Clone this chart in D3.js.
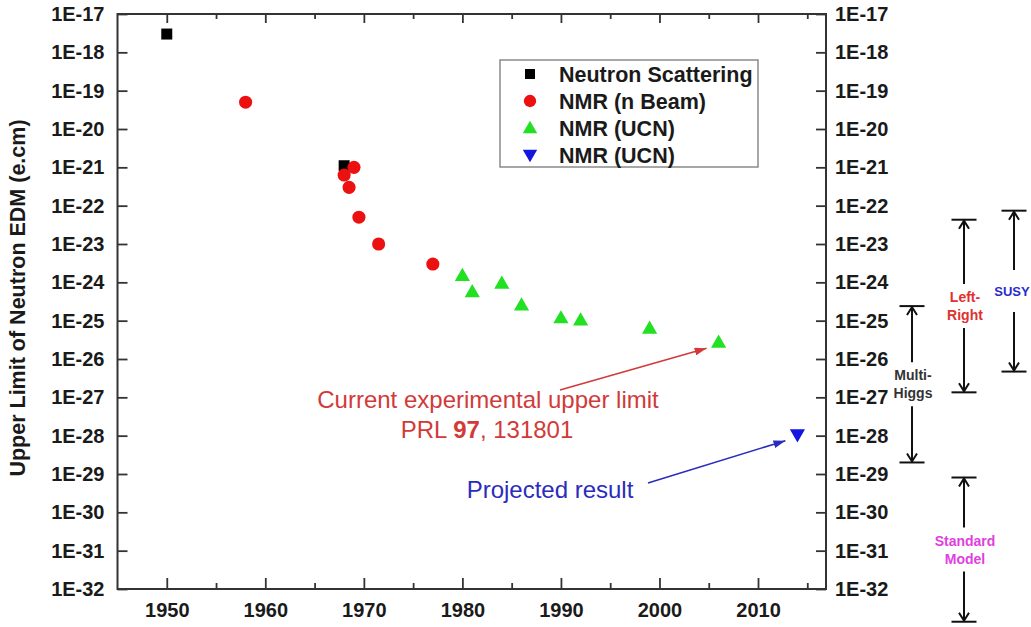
<!DOCTYPE html>
<html>
<head>
<meta charset="utf-8">
<script src="https://cdn.jsdelivr.net/npm/d3@7"></script>
<style>
  html, body { margin: 0; padding: 0; background: #fff; }
  svg { display: block; font-family: "Liberation Sans", Arial, sans-serif; }
</style>
</head>
<body>
<svg id="chart" width="1031" height="627"></svg>
<script>
// ---------- data ----------
const scatterYears = [1950, 1968];
const scatterVals  = [3e-18, 1.1e-21];

const beamYears = [1958, 1969, 1968, 1968.5, 1969.5, 1971.5, 1977];
const beamVals  = [5e-20, 1e-21, 6.3e-22, 3e-22, 5e-23, 1e-23, 3e-24];

const ucnYears = [1980, 1981, 1984, 1986, 1990, 1992, 1999, 2006];
const ucnVals  = [1.6e-24, 6e-25, 1e-24, 2.7e-25, 1.25e-25, 1.1e-25, 6.7e-26, 2.9e-26];

const projYears = [2014];
const projVals  = [1e-28];

const legendLabels = ["Neutron Scattering", "NMR (n Beam)", "NMR (UCN)", "NMR (UCN)"];

const xTickMajor = [1950, 1960, 1970, 1980, 1990, 2000, 2010];
const xTickMinor = [1955, 1965, 1975, 1985, 1995, 2005, 2015];
const yExponents = d3.range(-32, -16); // -32 ... -17

const theoryLabels = [["Multi-", "Higgs"], ["Left-", "Right"], ["SUSY"], ["Standard", "Model"]];
const theoryUpper  = [2.4e-25, 4.3e-23, 7.4e-23, 8.1e-30];
const theoryLower  = [2.0e-29, 1.35e-27, 4.7e-27, 1.4e-33];

// ---------- layout ----------
const svg = d3.select("#chart");
const L = 117.5, R = 826, T = 14, B = 589;

const x = d3.scaleLinear().domain([1945, 2016.9]).range([L, R]);
const y = d3.scaleLog().domain([1e-32, 1e-17]).range([B, T]);

const axisColor = "#333";

// Y axes
const yTicks = yExponents.map(e => Math.pow(10, e));
const fmt = d => "1E" + Math.round(Math.log10(d));

const gyl = svg.append("g").attr("transform", `translate(${L},0)`)
  .call(d3.axisLeft(y).tickValues(yTicks).tickFormat(fmt).tickSize(-10).tickPadding(13));
const gyr = svg.append("g").attr("transform", `translate(${R},0)`)
  .call(d3.axisRight(y).tickValues(yTicks).tickFormat(fmt).tickSize(-10).tickPadding(9));

// X axes
const gxb = svg.append("g").attr("transform", `translate(0,${B})`)
  .call(d3.axisBottom(x).tickValues(xTickMajor).tickFormat(d3.format("d")).tickSize(-11).tickPadding(14));
const gxbm = svg.append("g").attr("transform", `translate(0,${B})`)
  .call(d3.axisBottom(x).tickValues(xTickMinor).tickFormat("").tickSize(-6));
const gxt = svg.append("g").attr("transform", `translate(0,${T})`)
  .call(d3.axisTop(x).tickValues(xTickMajor).tickFormat("").tickSize(-9));
const gxtm = svg.append("g").attr("transform", `translate(0,${T})`)
  .call(d3.axisTop(x).tickValues(xTickMinor).tickFormat("").tickSize(-5));

[gyl, gyr, gxb, gxbm, gxt, gxtm].forEach(g => {
  g.select(".domain").remove();
  g.selectAll(".tick line").attr("stroke", axisColor).attr("stroke-width", 1.8);
  g.selectAll(".tick text").attr("fill", "#1a1a1a").attr("font-weight", "bold")
    .attr("font-family", "Liberation Sans, Arial, sans-serif").attr("font-size", 20);
});

// frame
svg.append("rect").attr("x", L).attr("y", T).attr("width", R - L).attr("height", B - T)
  .attr("fill", "none").attr("stroke", axisColor).attr("stroke-width", 2);

// Y title
svg.append("text")
  .attr("transform", `translate(25,298) rotate(-90)`)
  .attr("text-anchor", "middle")
  .attr("font-weight", "bold").attr("font-size", 21.5).attr("fill", "#1a1a1a")
  .text("Upper Limit of Neutron EDM (e.cm)");

// ---------- markers ----------
const sq = d3.symbol().type(d3.symbolSquare).size(121);
const circ = d3.symbol().type(d3.symbolCircle).size(135);
const tri = d3.symbol().type(d3.symbolTriangle).size(100);

const cRed = "#ec1010", cGreen = "#22e022", cBlue = "#1515e0";

svg.append("g").selectAll("path").data(scatterYears).join("path")
  .attr("d", sq).attr("fill", "#000")
  .attr("transform", (d, i) => `translate(${x(d)},${y(scatterVals[i])})`);
svg.append("g").selectAll("path").data(beamYears).join("path")
  .attr("d", circ).attr("fill", cRed)
  .attr("transform", (d, i) => `translate(${x(d)},${y(beamVals[i])})`);
svg.append("g").selectAll("path").data(ucnYears).join("path")
  .attr("d", tri).attr("fill", cGreen)
  .attr("transform", (d, i) => `translate(${x(d)},${y(ucnVals[i]) + 2})`);
svg.append("g").selectAll("path").data(projYears).join("path")
  .attr("d", tri).attr("fill", cBlue)
  .attr("transform", (d, i) => `translate(${x(d)},${y(projVals[i]) - 2}) rotate(180)`);

// ---------- legend ----------
const lg = svg.append("g");
lg.append("rect").attr("x", 500).attr("y", 60).attr("width", 258).attr("height", 107)
  .attr("fill", "#fff").attr("stroke", "#8a8a8a").attr("stroke-width", 1.5);
const legendSyms = [
  {s: d3.symbol().type(d3.symbolSquare).size(100), c: "#000", r: 0},
  {s: d3.symbol().type(d3.symbolCircle).size(120), c: cRed, r: 0},
  {s: d3.symbol().type(d3.symbolTriangle).size(90), c: cGreen, r: 0},
  {s: d3.symbol().type(d3.symbolTriangle).size(90), c: cBlue, r: 180}
];
legendLabels.forEach((lab, i) => {
  const yy = 74 + i * 27;
  lg.append("path").attr("d", legendSyms[i].s).attr("fill", legendSyms[i].c)
    .attr("transform", `translate(530,${yy + (i === 2 ? 1 : i === 3 ? -1 : 0)}) rotate(${legendSyms[i].r})`);
  lg.append("text").attr("x", 559).attr("y", yy).attr("dy", "0.36em")
    .attr("font-weight", "bold").attr("font-size", 21.5).attr("fill", "#1a1a1a").text(lab);
});

// ---------- annotations ----------
const defs = svg.append("defs");
function marker(id, color) {
  defs.append("marker").attr("id", id).attr("viewBox", "0 0 12 8")
    .attr("refX", 12).attr("refY", 4).attr("markerWidth", 12).attr("markerHeight", 8)
    .attr("markerUnits", "userSpaceOnUse").attr("orient", "auto")
    .append("path").attr("d", "M0,0 L12,4 L0,8 Z").attr("fill", color);
}
const cAnnRed = "#d23a3a", cAnnBlue = "#2b2bbd";
marker("ahRed", cAnnRed);
marker("ahBlue", cAnnBlue);

const px1 = x(ucnYears[ucnYears.length - 1]), py1 = y(ucnVals[ucnVals.length - 1]);
svg.append("line").attr("x1", 560).attr("y1", 390).attr("x2", px1 - 12).attr("y2", py1 + 7)
  .attr("stroke", cAnnRed).attr("stroke-width", 1.6).attr("marker-end", "url(#ahRed)");
svg.append("text").attr("x", 488).attr("y", 408).attr("text-anchor", "middle")
  .attr("font-size", 24).attr("fill", cAnnRed).text("Current experimental upper limit");
const prl = svg.append("text").attr("x", 487).attr("y", 438).attr("text-anchor", "middle")
  .attr("font-size", 24).attr("fill", cAnnRed);
prl.append("tspan").text("PRL ");
prl.append("tspan").attr("font-weight", "bold").text("97");
prl.append("tspan").text(", 131801");

const px2 = x(projYears[0]), py2 = y(projVals[0]);
svg.append("line").attr("x1", 648).attr("y1", 483).attr("x2", px2 - 12).attr("y2", py2 + 5)
  .attr("stroke", cAnnBlue).attr("stroke-width", 1.6).attr("marker-end", "url(#ahBlue)");
svg.append("text").attr("x", 550).attr("y", 498).attr("text-anchor", "middle")
  .attr("font-size", 24).attr("fill", cAnnBlue).text("Projected result");

// ---------- theory ranges ----------
const theoryX = [912, 964, 1014, 964];
const theoryColors = ["#333333", "#e03030", "#2a2ad0", "#e040e0"];
const tg = svg.append("g").attr("stroke", "#111").attr("stroke-width", 2).attr("fill", "none");
theoryLabels.forEach((lines, i) => {
  const xx = theoryX[i];
  const yt = y(theoryUpper[i]), yb = y(theoryLower[i]);
  const yc = (yt + yb) / 2;
  const gap = lines.length > 1 ? 22 : 21;
  // bars
  tg.append("line").attr("x1", xx - 12.5).attr("x2", xx + 12.5).attr("y1", yt).attr("y2", yt);
  tg.append("line").attr("x1", xx - 12.5).attr("x2", xx + 12.5).attr("y1", yb).attr("y2", yb);
  // shafts
  tg.append("line").attr("x1", xx).attr("x2", xx).attr("y1", yt + 1).attr("y2", yc - gap);
  tg.append("line").attr("x1", xx).attr("x2", xx).attr("y1", yc + gap).attr("y2", yb - 1);
  // open arrowheads
  tg.append("path").attr("d", `M${xx - 5},${yt + 9} L${xx},${yt + 1} L${xx + 5},${yt + 9}`);
  tg.append("path").attr("d", `M${xx - 5},${yb - 9} L${xx},${yb - 1} L${xx + 5},${yb - 9}`);
  // label
  const n = lines.length;
  const single = n === 1;
  lines.forEach((t, k) => {
    svg.append("text").attr("x", single ? xx - 2 : xx + 1)
      .attr("y", yc + (k - (n - 1) / 2) * 18).attr("dy", "0.36em")
      .attr("text-anchor", "middle").attr("font-weight", "bold").attr("font-size", single ? 13 : 14)
      .attr("fill", theoryColors[i]).text(t);
  });
});
</script>
</body>
</html>
